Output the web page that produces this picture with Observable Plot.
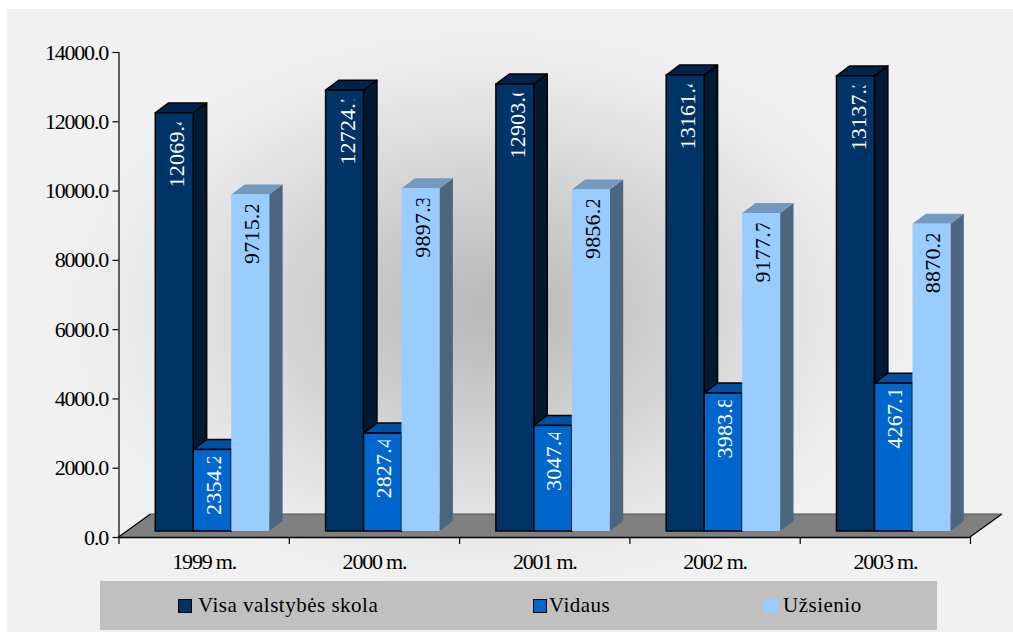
<!DOCTYPE html>
<html lang="lt">
<head>
<meta charset="utf-8">
<script src="https://cdn.jsdelivr.net/npm/d3@7"></script>
<script src="https://cdn.jsdelivr.net/npm/@observablehq/plot@0.6"></script>
<style>
html,body{margin:0;padding:0;background:#fff;width:1013px;height:633px;overflow:hidden}
#panel{position:absolute;left:7px;top:9px;width:1006px;height:623px;
 background:radial-gradient(ellipse 430px 285px at 483px 301px,#b9b9b9 0%,#bebebe 12%,#d6d6d6 50%,#e8e8e8 80%,#f1f1f1 100%)}
#chart{position:absolute;left:0;top:0}
#chart svg{background:transparent;display:block}
#chart svg text{letter-spacing:-1.2px}
#legend{position:absolute;left:100px;top:581px;width:837px;height:49px;background:#c0c0c0;
 font:21px "Liberation Serif",serif;color:#000}
#legend .it{position:absolute;top:0;height:49px;line-height:49px;white-space:nowrap;letter-spacing:.5px}
#legend .sw{position:absolute;top:18px;width:14px;height:14px;box-sizing:border-box}
</style>
</head>
<body>
<div id="panel"></div>
<div id="chart"></div>
<div id="legend"></div>
<script>
const years = ["1999 m.", "2000 m.", "2001 m.", "2002 m.", "2003 m."];
const seriesNames = ["Visa valstybės skola", "Vidaus", "Užsienio"];
const totalDebt = [12069.4, 12724.7, 12903.6, 13161.4, 13137.3];
const domesticDebt = [2354.2, 2827.4, 3047.4, 3983.8, 4267.1];
const foreignDebt = [9715.2, 9897.3, 9856.2, 9177.7, 8870.2];
const yTicks = [0, 2000, 4000, 6000, 8000, 10000, 12000, 14000];
const seriesValues = [totalDebt, domesticDebt, foreignDebt];

const looks = [
  {front:"#003366", side:"#001a33", top:"#00234d", stroke:"#000", label:"#fff", drop:74, clip:65, nudge:2.5},
  {front:"#0066cc", side:"#004c99", top:"#00509f", stroke:"#000", label:"#fff", drop:65, clip:58, nudge:1},
  {front:"#99ccff", side:"#4d6680", top:"#7399bf", stroke:"none", label:"#000", drop:69, clip:59, nudge:1.5}
];
const legendLeft = [78, 433, 664];
const legendTextLeft = [98, 449, 683];

const barW = 0.223, gapLeft = 0.5 - 1.5 * barW;
const depth = {x: 13.4, y: -10}, floorDepth = {x: 32, y: -23}, lift = {x: 8.6, y: -6};
const NS = "http://www.w3.org/2000/svg";

function poly(points, fill, stroke, sw) {
  const p = document.createElementNS(NS, "polygon");
  p.setAttribute("points", points.map(q => q.join(",")).join(" "));
  p.setAttribute("fill", fill);
  p.setAttribute("stroke", stroke);
  p.setAttribute("stroke-width", sw);
  p.setAttribute("stroke-linejoin", "round");
  return p;
}

// Front faces come from Plot.rect; side and top faces are derived from each rect.
function box(look) {
  return function(index, scales, values, dims, ctx, next) {
    const g = next(index, scales, values, dims, ctx);
    for (const r of [...g.querySelectorAll("rect")]) {
      const x = +r.getAttribute("x"), y = +r.getAttribute("y"),
            w = +r.getAttribute("width"), h = +r.getAttribute("height");
      const dx = depth.x, dy = depth.y;
      g.insertBefore(poly([[x+w,y],[x+w+dx,y+dy],[x+w+dx,y+h+dy],[x+w,y+h]], look.side, look.stroke, 1.5), r);
      g.insertBefore(poly([[x,y],[x+dx,y+dy],[x+w+dx,y+dy],[x+w,y]], look.top, look.stroke, 1.5), r);
    }
    return g;
  };
}

function floor(index, {x, y}) {
  const g = document.createElementNS(NS, "g");
  const x0 = x(0), x1 = x(5), y0 = y(0), X = floorDepth.x, Y = floorDepth.y;
  g.appendChild(poly([[x0,y0],[x0+X,y0+Y],[x1+X,y0+Y],[x1,y0]], "#808080", "none", 0));
  const edge = (a, b, c) => {
    const l = document.createElementNS(NS, "polyline");
    l.setAttribute("points", a.concat(b).join(" "));
    l.setAttribute("fill", "none"); l.setAttribute("stroke", c); l.setAttribute("stroke-width", 1.2);
    g.appendChild(l);
  };
  edge([x0,y0],[x0+X,y0+Y],"#000");
  edge([x1,y0],[x1+X,y0+Y],"#000");
  edge([x0+X,y0+Y],[x1+X,y0+Y],"#505050");
  return g;
}

function clipLabels(len, id) {
  return function(index, scales, values, dims, ctx, next) {
    const g = next(index, scales, values, dims, ctx);
    const cp = document.createElementNS(NS, "clipPath");
    cp.setAttribute("id", id);
    const r = document.createElementNS(NS, "rect");
    r.setAttribute("x", 0); r.setAttribute("y", -20);
    r.setAttribute("width", len); r.setAttribute("height", 40);
    cp.appendChild(r);
    g.insertBefore(cp, g.firstChild);
    for (const t of g.querySelectorAll("text")) {
      t.setAttribute("clip-path", `url(#${id})`);
      t.style.letterSpacing = "0.2px";
    }
    return g;
  };
}

const rows = k => years.map((yr, i) => ({
  year: yr,
  value: seriesValues[k][i],
  x1: i + gapLeft + k * barW,
  x2: i + gapLeft + (k + 1) * barW,
  mid: i + gapLeft + (k + 0.5) * barW
}));

const marks = [
  floor,
  Plot.axisY({ticks: yTicks, tickFormat: d => d.toFixed(1), tickSize: 6, tickPadding: 5, label: null,
    stroke: "#000", strokeOpacity: 1, strokeWidth: 1.2, fill: "#000", fontSize: 22}),
  Plot.axisX({ticks: [0,1,2,3,4,5], tickFormat: () => "", tickSize: 7, label: null,
    stroke: "#000", strokeOpacity: 1, strokeWidth: 1.2}),
  Plot.axisX({ticks: years.map((_, i) => i + 0.5), tickFormat: d => years[d - 0.5], tickSize: 0, tickPadding: 16,
    label: null, fill: "#000", fontSize: 22}),
  Plot.ruleX([0], {stroke: "#000", strokeWidth: 1.2}),
  Plot.ruleY([0], {stroke: "#000", strokeWidth: 1.5})
];
looks.forEach((look, k) => {
  marks.push(Plot.rect(rows(k), {
    x1: "x1", x2: "x2", y1: () => 0, y2: "value",
    fill: look.front, stroke: look.stroke, strokeWidth: 1.5,
    dx: lift.x, dy: lift.y, render: box(look)
  }));
});
looks.forEach((look, k) => {
  marks.push(Plot.text(rows(k), {
    x: "mid", y: "value", text: d => d.value.toFixed(1),
    rotate: -90, textAnchor: "start", lineAnchor: "middle",
    dx: lift.x + look.nudge, dy: lift.y + look.drop,
    fill: look.label, fontSize: 22,
    render: clipLabels(look.clip, "lab" + k)
  }));
});

const chart = Plot.plot({
  width: 1013, height: 633,
  marginLeft: 118.5, marginRight: 43, marginTop: 52, marginBottom: 96,
  style: {fontFamily: '"Liberation Serif", serif', background: "transparent", overflow: "visible"},
  x: {type: "linear", domain: [0, 5]},
  y: {domain: [0, 14000]},
  marks
});
document.getElementById("chart").appendChild(chart);

const legend = document.getElementById("legend");
seriesNames.forEach((name, k) => {
  const sw = document.createElement("span");
  sw.className = "sw";
  sw.style.left = legendLeft[k] + "px";
  sw.style.background = looks[k].front;
  if (looks[k].stroke !== "none") sw.style.border = "1.5px solid #000";
  legend.appendChild(sw);
  const it = document.createElement("span");
  it.className = "it";
  it.style.left = legendTextLeft[k] + "px";
  it.textContent = name;
  legend.appendChild(it);
});
</script>
</body>
</html>
